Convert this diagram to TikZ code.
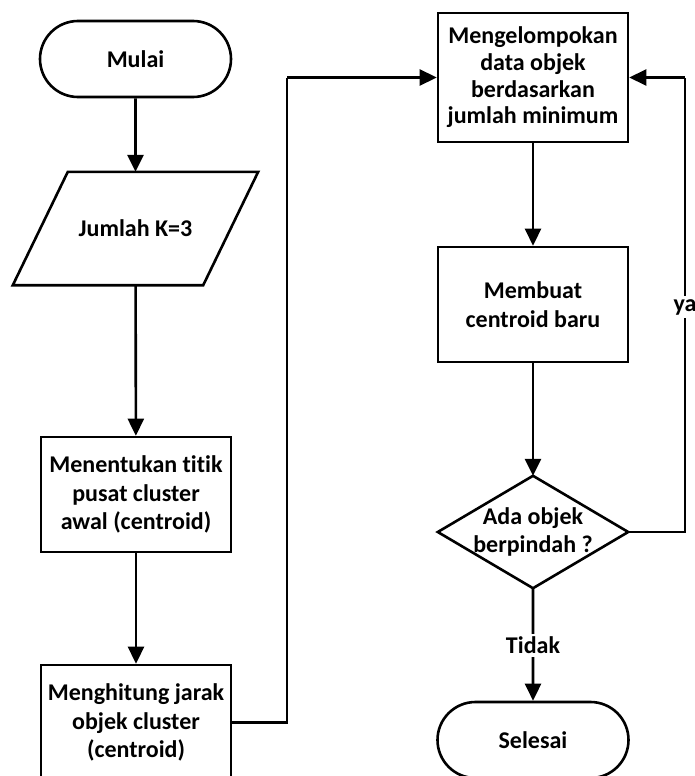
\documentclass[tikz,border=0pt]{standalone}
\usepackage{fontspec}
\setmainfont{Carlito}[Ligatures=NoCommon]
\usetikzlibrary{arrows.meta,shapes.misc}
\begin{document}
\begin{tikzpicture}[x=1pt,y=-1pt,
  every node/.style={font=\bfseries\fontsize{24}{28.5}\selectfont, align=center, inner sep=0pt},
  proc/.style={draw, rectangle, minimum width=190pt, minimum height=115pt, line width=2.6pt},
  term/.style={draw, rounded rectangle, minimum width=191pt, minimum height=76pt, line width=2.6pt},
  frame/.style={rectangle, minimum width=190pt},
  outline/.style={draw, line width=2.6pt, line join=miter},
  flow/.style={line width=2.6pt, -{Triangle[length=17pt,width=16pt]}},
  link/.style={line width=2.6pt},
  tag/.style={fill=white, inner sep=3pt}]
\useasboundingbox (0,0) rectangle (695,776);
\clip (0,0) rectangle (695,776);

% left column
\node[term] (mulai) at (135.5,59) {Mulai};
\node[frame, minimum height=113pt] (jml) at (135.5,228.5) {Jumlah K=3};
\draw[outline] ([xshift=27.5pt]jml.north west) -- ([xshift=27.5pt]jml.north east)
  -- ([xshift=-27.5pt]jml.south east) -- ([xshift=-27.5pt]jml.south west) -- cycle;
\node[proc] (tentu) at (136,494.5) {Menentukan titik\\pusat cluster\\awal (centroid)};
\node[proc] (hitung) at (136,722.5) {Menghitung jarak\\objek cluster\\(centroid)};

% right column
\node[proc, minimum height=129pt, font=\bfseries\fontsize{24}{26.7}\selectfont] (kelompok) at (533,77.5) {Mengelompokan\\data objek\\berdasarkan\\jumlah minimum};
\node[proc] (buat) at (533,304.5) {Membuat\\centroid baru};
\node[frame, minimum height=112pt] (cek) at (533,532) {Ada objek\\berpindah ?};
\draw[outline] (cek.north) -- (cek.east) -- (cek.south) -- (cek.west) -- cycle;
\node[term] (selesai) at (533,740) {Selesai};

% turning points of the two loop connectors
\coordinate (upA) at (287,77.5);
\coordinate (upB) at (685,77.5);

% connectors
\draw[flow] (mulai) -- (jml);
\draw[flow] (jml) -- (tentu);
\draw[flow] (tentu) -- (hitung);
\draw[link] (hitung.east) -| (upA);
\draw[flow] (upA) -- (kelompok.west);
\draw[flow] (kelompok) -- (buat);
\draw[flow] (buat) -- (cek.north);
\draw[link] (cek.east) -| (upB);
\draw[flow] (upB) -- (kelompok.east);
\draw[flow] (cek.south) -- (selesai);

% branch labels
\node[tag] (ya) at (685,307) {ya};
\node[tag] (tidak) at (533,645) {Tidak};
\end{tikzpicture}
\end{document}
